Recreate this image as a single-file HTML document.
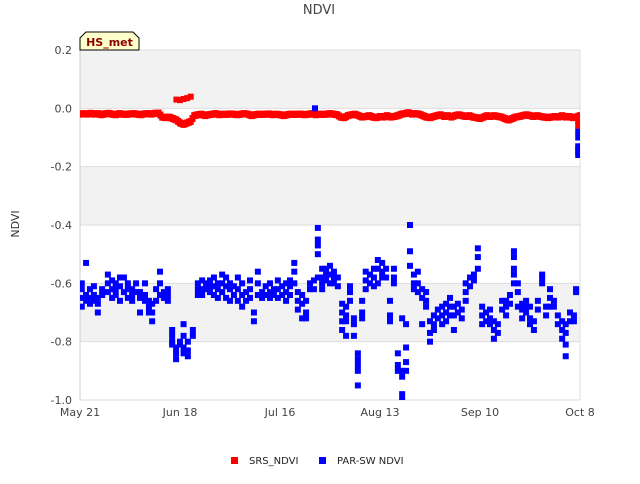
<!DOCTYPE html>
<html><head><meta charset="utf-8"><style>
html,body{margin:0;padding:0;background:#fff;}
body{width:640px;height:480px;overflow:hidden;font-family:"DejaVu Sans","Liberation Sans",sans-serif;}
</style></head><body>
<svg id="chart" width="640" height="480" xmlns="http://www.w3.org/2000/svg" font-family="DejaVu Sans, Liberation Sans, sans-serif">
<defs><clipPath id="plotclip"><rect x="80" y="50" width="500" height="350"/></clipPath></defs>
<text x="319" y="14" text-anchor="middle" font-size="13" fill="#444">NDVI</text>
<text transform="translate(19,224) rotate(-90)" text-anchor="middle" font-size="11" fill="#333">NDVI</text>
<g id="bands"></g>
<g id="grid"></g>
<g id="yticks"></g>
<g id="xticks"></g>
<g id="srs" clip-path="url(#plotclip)"></g>
<g id="par" clip-path="url(#plotclip)"></g>
<g>
<path d="M80,50 L80,38 L86,32 L133,32 L139,38 L139,50 Z" fill="#ffffcc" stroke="#000" stroke-width="1"/>
<text x="109.5" y="46" text-anchor="middle" font-size="11" font-weight="bold" fill="#8b0000">HS_met</text>
</g>
<g>
<rect x="231" y="457" width="7" height="7" fill="#ff0000"/>
<text x="249" y="464" font-size="10" fill="#222">SRS_NDVI</text>
<rect x="319" y="457" width="7" height="7" fill="#0000ff"/>
<text x="337" y="464" font-size="10" fill="#222">PAR-SW NDVI</text>
</g>
</svg>
<script>
const yTicks=[0.2,0.0,-0.2,-0.4,-0.6,-0.8,-1.0];
const yTickLabels=["0.2","0.0","-0.2","-0.4","-0.6","-0.8","-1.0"];
const xTickDays=[0,28,56,84,112,140];
const xTickLabels=["May 21","Jun 18","Jul 16","Aug 13","Sep 10","Oct 8"];
const srsVals=[-0.02,-0.018,-0.02,-0.017,-0.02,-0.018,-0.022,-0.019,-0.017,-0.02,-0.022,-0.018,-0.02,-0.021,-0.019,-0.018,-0.02,-0.022,-0.019,-0.018,-0.02,-0.017,-0.016,-0.03,-0.032,-0.03,-0.035,-0.04,-0.05,-0.055,-0.05,-0.045,-0.025,-0.022,-0.02,-0.025,-0.022,-0.02,-0.018,-0.022,-0.02,-0.021,-0.019,-0.02,-0.022,-0.02,-0.018,-0.02,-0.025,-0.022,-0.02,-0.021,-0.02,-0.019,-0.022,-0.02,-0.022,-0.025,-0.022,-0.02,-0.021,-0.02,-0.02,-0.022,-0.02,-0.018,-0.022,-0.02,-0.021,-0.02,-0.018,-0.02,-0.022,-0.03,-0.032,-0.025,-0.022,-0.02,-0.025,-0.03,-0.028,-0.025,-0.03,-0.032,-0.028,-0.03,-0.025,-0.03,-0.028,-0.025,-0.02,-0.018,-0.015,-0.02,-0.018,-0.02,-0.025,-0.03,-0.032,-0.028,-0.025,-0.022,-0.028,-0.025,-0.03,-0.025,-0.022,-0.025,-0.028,-0.025,-0.03,-0.032,-0.035,-0.03,-0.025,-0.028,-0.025,-0.028,-0.03,-0.035,-0.04,-0.035,-0.03,-0.028,-0.025,-0.022,-0.025,-0.028,-0.025,-0.028,-0.03,-0.032,-0.03,-0.028,-0.03,-0.025,-0.03,-0.028,-0.032,-0.03,-0.025,-0.028,-0.03];
const srsExtraDays=[27,28,29,30,31,139.5,139.5];
const srsExtraVals=[0.03,0.028,0.032,0.035,0.04,-0.045,-0.06];
const parDays=[0.5,0.5,0.5,0.5,1.7,1.7,1.7,2.8,2.8,2.8,3.9,3.9,3.9,5,5,5,6.2,6.2,7.8,7.8,7.8,9,9,9,10,10,10,11.2,11.2,11.2,12.3,12.3,13.4,13.4,13.4,14.6,14.6,14.6,15.7,15.7,16.8,16.8,16.8,18.2,18.2,18.2,19.3,19.3,19.3,20.2,20.2,20.2,21.3,21.3,22.4,22.4,22.4,23.5,23.5,24.6,24.6,24.6,25.8,25.8,25.8,25.8,26.9,26.9,26.9,28,28,29,29,29,29,30.2,30.2,30.2,31.6,31.6,33,33,33,34.2,34.2,34.2,35.3,35.3,36.4,36.4,36.4,37.5,37.5,37.5,38.6,38.6,38.6,39.8,39.8,39.8,40.9,40.9,40.9,42,42,42,43.1,43.1,44.2,44.2,44.2,45.4,45.4,45.4,46.5,46.5,47.6,47.6,47.6,48.7,48.7,49.8,49.8,49.8,51,51,52,52,53.2,53.2,53.2,54.3,54.3,55.4,55.4,55.4,56.6,56.6,57.7,57.7,57.7,58.8,58.8,58.8,60,60,60,61,61,61,62.2,62.2,62.2,63.3,63.3,63.3,64.4,64.4,65.5,65.5,65.8,66.6,66.6,66.6,66.6,66.6,67.8,67.8,67.8,67.8,68.9,68.9,68.9,70,70,70,71.1,71.1,71.1,72.2,72.2,73.4,73.4,73.4,73.4,74.5,74.5,74.5,74.5,75.6,75.6,75.6,76.7,76.7,76.7,77.8,77.8,77.8,77.8,77.8,79,79,79,80,80,80,81.2,81.2,82.3,82.3,82.3,83.4,83.4,83.4,84.6,84.6,84.6,85.7,85.7,86.8,86.8,86.8,87.9,87.9,87.9,89,89,89,90.2,90.2,90.2,90.2,90.2,91.3,91.3,91.3,91.3,92.4,92.4,92.4,93.5,93.5,93.5,94.6,94.6,94.6,95.8,95.8,95.8,96.9,96.9,96.9,98,98,98,99.1,99.1,99.1,100.2,100.2,101.4,101.4,101.4,102.5,102.5,102.5,103.6,103.6,103.6,104.7,104.7,104.7,105.8,105.8,106.9,106.9,108,108,108,109.2,109.2,110.3,110.3,111.4,111.4,111.4,112.6,112.6,112.6,113.7,113.7,114.8,114.8,114.8,115.9,115.9,115.9,117,117,118.2,118.2,119.3,119.3,119.3,120.4,120.4,121.5,121.5,121.5,121.5,121.5,122.6,122.6,122.6,123.8,123.8,123.8,124.9,124.9,124.9,126,126,126,127.1,127.1,128.2,128.2,129.4,129.4,129.4,130.5,130.5,131.6,131.6,131.6,132.7,132.7,133.8,133.8,135,135,135,136,136,136,136,137.2,137.2,138.3,138.3,138.9,138.9,139.5,139.5,139.5,139.5,139.5,139.5];
const parVals=[-0.62,-0.65,-0.68,-0.60,-0.53,-0.64,-0.66,-0.62,-0.65,-0.67,-0.61,-0.64,-0.66,-0.65,-0.67,-0.70,-0.64,-0.62,-0.57,-0.60,-0.63,-0.59,-0.62,-0.65,-0.60,-0.62,-0.64,-0.58,-0.61,-0.66,-0.58,-0.63,-0.60,-0.62,-0.65,-0.62,-0.64,-0.66,-0.60,-0.63,-0.63,-0.65,-0.70,-0.60,-0.64,-0.66,-0.66,-0.68,-0.70,-0.67,-0.70,-0.73,-0.62,-0.66,-0.56,-0.60,-0.64,-0.63,-0.65,-0.62,-0.64,-0.66,-0.76,-0.78,-0.80,-0.81,-0.82,-0.84,-0.86,-0.80,-0.81,-0.74,-0.78,-0.82,-0.84,-0.80,-0.83,-0.85,-0.76,-0.78,-0.60,-0.62,-0.64,-0.59,-0.62,-0.64,-0.60,-0.62,-0.59,-0.61,-0.63,-0.58,-0.61,-0.64,-0.60,-0.62,-0.65,-0.57,-0.60,-0.63,-0.58,-0.61,-0.65,-0.60,-0.62,-0.66,-0.61,-0.64,-0.58,-0.62,-0.66,-0.60,-0.64,-0.68,-0.63,-0.66,-0.59,-0.62,-0.65,-0.70,-0.73,-0.56,-0.60,-0.64,-0.63,-0.65,-0.61,-0.64,-0.60,-0.63,-0.65,-0.62,-0.64,-0.59,-0.62,-0.65,-0.61,-0.64,-0.60,-0.63,-0.66,-0.59,-0.61,-0.64,-0.53,-0.56,-0.60,-0.63,-0.66,-0.69,-0.64,-0.67,-0.72,-0.66,-0.70,-0.72,-0.60,-0.62,-0.59,-0.62,0.00,-0.41,-0.45,-0.47,-0.50,-0.58,-0.55,-0.58,-0.60,-0.62,-0.55,-0.57,-0.59,-0.54,-0.57,-0.60,-0.56,-0.58,-0.60,-0.58,-0.61,-0.67,-0.70,-0.73,-0.76,-0.68,-0.71,-0.73,-0.78,-0.61,-0.63,-0.66,-0.72,-0.74,-0.78,-0.84,-0.86,-0.88,-0.90,-0.95,-0.66,-0.70,-0.72,-0.56,-0.59,-0.62,-0.57,-0.60,-0.55,-0.58,-0.61,-0.52,-0.55,-0.60,-0.53,-0.56,-0.58,-0.55,-0.58,-0.66,-0.71,-0.73,-0.55,-0.58,-0.60,-0.84,-0.88,-0.90,-0.72,-0.90,-0.92,-0.98,-1.00,-0.74,-0.82,-0.87,-0.90,-0.40,-0.49,-0.54,-0.57,-0.60,-0.62,-0.56,-0.60,-0.63,-0.62,-0.65,-0.74,-0.63,-0.66,-0.68,-0.73,-0.77,-0.80,-0.71,-0.74,-0.76,-0.69,-0.72,-0.68,-0.71,-0.74,-0.67,-0.70,-0.73,-0.65,-0.68,-0.71,-0.68,-0.71,-0.76,-0.67,-0.70,-0.69,-0.72,-0.60,-0.63,-0.66,-0.58,-0.61,-0.57,-0.59,-0.48,-0.51,-0.55,-0.68,-0.71,-0.74,-0.70,-0.73,-0.69,-0.72,-0.74,-0.73,-0.76,-0.79,-0.74,-0.77,-0.66,-0.69,-0.66,-0.68,-0.71,-0.64,-0.67,-0.49,-0.51,-0.55,-0.57,-0.60,-0.60,-0.63,-0.68,-0.67,-0.69,-0.72,-0.66,-0.68,-0.70,-0.68,-0.72,-0.74,-0.73,-0.76,-0.66,-0.69,-0.57,-0.58,-0.60,-0.68,-0.71,-0.62,-0.65,-0.68,-0.66,-0.68,-0.71,-0.74,-0.73,-0.76,-0.79,-0.74,-0.77,-0.81,-0.85,-0.70,-0.73,-0.71,-0.73,-0.62,-0.63,-0.08,-0.10,-0.13,-0.14,-0.15,-0.16];

const NS="http://www.w3.org/2000/svg";
const L=80,R=580,T=50,B=400,DMAX=140,YMIN=-1.0,YMAX=0.2;
function xs(d){return L+(d/DMAX)*(R-L);}
function ys(v){return T+(YMAX-v)/(YMAX-YMIN)*(B-T);}
function mk(tag,attrs,parent){const e=document.createElementNS(NS,tag);for(const k in attrs)e.setAttribute(k,attrs[k]);parent.appendChild(e);return e;}
const bands=document.getElementById('bands'),grid=document.getElementById('grid');
for(let i=0;i<yTicks.length-1;i++){
  const r=mk('rect',{x:L,y:ys(yTicks[i]),width:R-L,height:ys(yTicks[i+1])-ys(yTicks[i]),fill:(i%2===0)?'#f2f2f2':'#ffffff'},bands);
  
  
}
const yt=document.getElementById('yticks');
yTicks.forEach((v,i)=>{
  const ln=mk('line',{x1:L,x2:R,y1:ys(v),y2:ys(v),stroke:'#dddddd','stroke-width':1},grid);
  
  
  const t=mk('text',{x:72,y:ys(v)+4,'text-anchor':'end','font-size':11,fill:'#444'},yt);
  t.textContent=yTickLabels[i];
  
  
});
const ax=mk('line',{x1:L,x2:L,y1:T,y2:B,stroke:'#cccccc','stroke-width':1},grid);


const ax2=mk('line',{x1:R,x2:R,y1:T,y2:B,stroke:'#dddddd','stroke-width':1},grid);


const xt=document.getElementById('xticks');
xTickDays.forEach((d,i)=>{
  const t=mk('text',{x:xs(d),y:416,'text-anchor':'middle','font-size':11,fill:'#444'},xt);
  t.textContent=xTickLabels[i];
  
  
});
const srs=document.getElementById('srs');
srsVals.forEach((v,i)=>{
  const r=mk('rect',{x:xs(i)-3,y:ys(v)-3.5,width:6,height:7,fill:'#ff0000'},srs);
  
  
  if(i<srsVals.length-1){
    const r2=mk('rect',{x:xs(i+0.5)-3,y:ys((v+srsVals[i+1])/2)-3.5,width:6,height:7,fill:'#ff0000'},srs);
    
    
  }
});
srsExtraDays.forEach((d,i)=>{
  const r=mk('rect',{x:xs(d)-3,y:ys(srsExtraVals[i])-3,width:6,height:6,fill:'#ff0000'},srs);
  
  
});
const par=document.getElementById('par');
parDays.forEach((d,i)=>{
  const r=mk('rect',{x:xs(d)-3,y:ys(parVals[i])-3,width:6,height:6,fill:'#0000ff'},par);
  
  
});
</script>
</body></html>
